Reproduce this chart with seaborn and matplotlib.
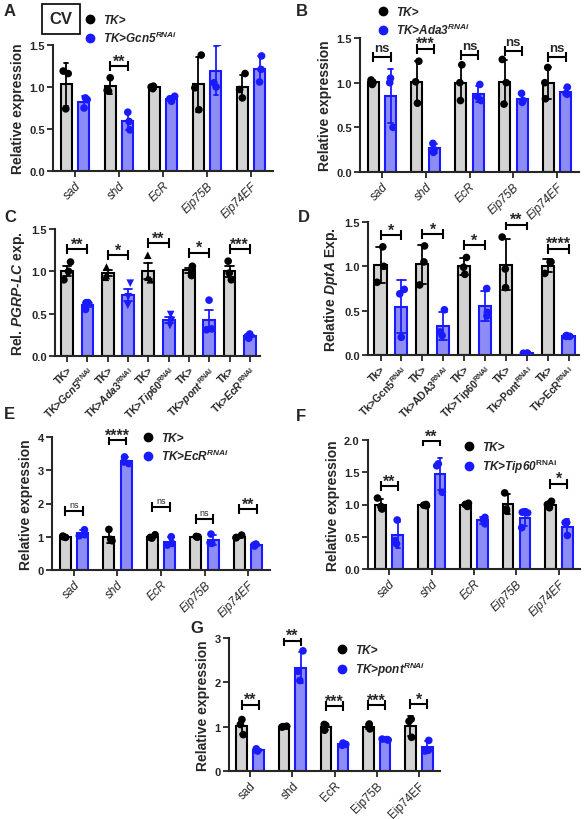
import numpy as np
import pandas as pd
import seaborn as sns
import matplotlib.pyplot as plt
import matplotlib.colors as mcolors
from matplotlib.lines import Line2D

sns.set_style("ticks")
plt.rcParams['font.family'] = ['Liberation Sans', 'DejaVu Sans']
plt.rcParams['mathtext.fontset'] = 'custom'
plt.rcParams['mathtext.rm'] = 'Liberation Sans:bold'
plt.rcParams['mathtext.it'] = 'Liberation Sans:italic:bold'
plt.rcParams['mathtext.bf'] = 'Liberation Sans:bold'
np.random.seed(7)

# ---------------- data ----------------
genes = ["sad", "shd", "EcR", "Eip75B", "Eip74EF"]

A_ctrl = [[1.19, 1.16, 0.74], [1.11, 0.96, 0.95], [1.01, 1.00, 0.98], [1.38, 0.99, 0.73], [1.16, 0.97, 0.87]]
A_trt = [[0.87, 0.85, 0.75], [0.70, 0.59, 0.49], [0.89, 0.86, 0.83], [1.53, 1.05, 1.00], [1.37, 1.21, 1.06]]
A_sig = ["", "**", "", "", ""]
A_sig_y = [0, 1.25, 0, 0, 0]

B_ctrl = [[1.03, 1.00, 0.98], [1.24, 1.01, 0.77], [1.20, 1.00, 0.80], [1.26, 1.00, 0.76], [1.17, 1.00, 0.82]]
B_trt = [[1.05, 1.00, 0.50], [0.32, 0.25, 0.22], [0.98, 0.84, 0.80], [0.88, 0.80, 0.78], [0.95, 0.88, 0.87]]
B_sig = ["ns", "***", "ns", "ns", "ns"]
B_sig_y = [1.29, 1.38, 1.31, 1.36, 1.29]

C_ctrl_lab = ["TK>", "TK>", "TK>", "TK>", "Tk>"]
C_trt_lab = [r"TK>$\mathit{Gcn5}^{\mathrm{RNAi}}$", r"TK>$\mathit{Ada3}^{\mathrm{RNAi}}$",
             r"TK>$\mathit{Tip60}^{\mathrm{RNAi}}$", r"TK>$\mathit{pont}^{\mathrm{RNAi}}$",
             r"Tk>$\mathit{EcR}^{\mathrm{RNAi}}$"]
C_ctrl = [[1.11, 1.00, 0.90], [1.05, 0.95, 0.93], [1.19, 0.93, 0.90], [1.06, 1.02, 0.95], [1.12, 0.98, 0.90]]
C_trt = [[0.63, 0.63, 0.55], [0.86, 0.70, 0.60], [0.49, 0.42, 0.36], [0.66, 0.32, 0.31], [0.26, 0.23, 0.21]]
C_ctrl_mk = ["o", "^", "^", "o", "o"]
C_trt_mk = ["o", "v", "v", "o", "o"]
C_sig = ["**", "*", "**", "*", "***"]
C_sig_y = [1.26, 1.19, 1.33, 1.22, 1.26]

D_ctrl_lab = ["Tk>", "TK>", "TK>", "TK>", "Tk>"]
D_trt_lab = [r"Tk>Gcn5$^{\mathrm{RNAi}}$", r"Tk>ADA3$^{\mathrm{RNAi}}$", r"TK>Tip60$^{\mathrm{RNAi}}$",
             r"Tk>Pont$^{\mathrm{RNAi}}$", r"Tk>EcR$^{\mathrm{RNAi}}$"]
D_ctrl = [[1.22, 1.00, 0.82], [1.23, 1.05, 0.79], [1.10, 0.99, 0.91], [1.33, 0.97, 0.76], [1.05, 1.05, 0.92]]
D_trt = [[0.74, 0.69, 0.20], [0.51, 0.26, 0.22], [0.75, 0.48, 0.44], [0.02, 0.02, 0.02], [0.22, 0.21, 0.21]]
D_sig = ["*", "*", "*", "**", "****"]
D_sig_y = [1.35, 1.36, 1.24, 1.47, 1.20]

E_ctrl = [[1.00, 0.98, 1.02], [1.22, 0.92, 0.88], [1.06, 0.98, 0.96], [0.99, 1.00, 1.01], [1.05, 0.98, 0.97]]
E_trt = [[1.21, 1.06, 1.03], [3.40, 3.25, 3.20], [1.00, 0.80, 0.75], [1.08, 0.82, 0.80], [0.78, 0.75, 0.72]]
E_sig = ["ns", "****", "ns", "ns", "**"]
E_sig_y = [1.78, 3.90, 1.88, 1.53, 1.83]

F_ctrl = [[1.10, 0.97, 0.93], [0.99, 1.00, 0.98], [1.02, 1.00, 0.97], [1.18, 0.93, 0.90], [1.05, 1.00, 0.95]]
F_trt = [[0.76, 0.44, 0.39], [1.63, 1.60, 1.19], [0.80, 0.76, 0.70], [0.88, 0.87, 0.64], [0.72, 0.72, 0.52]]
F_sig = ["**", "**", "", "", "*"]
F_sig_y = [1.28, 1.98, 0, 0, 1.32]

G_ctrl = [[1.16, 1.05, 0.82], [1.00, 0.99, 1.01], [1.05, 1.03, 0.92], [1.06, 1.00, 0.95], [1.17, 1.12, 0.76]]
G_trt = [[0.50, 0.47, 0.45], [2.71, 2.25, 2.04], [0.63, 0.60, 0.58], [0.72, 0.71, 0.70], [0.69, 0.47, 0.45]]
G_sig = ["**", "**", "***", "***", "*"]
G_sig_y = [1.49, 2.94, 1.46, 1.48, 1.51]

# ---------------- style ----------------
W, H = 584, 820
GRAY = "#d3d3d3"
LBLUE = "#8c8cf4"
BLUE = "#1a1aff"
fig = plt.figure(figsize=(W / 100, H / 100), dpi=100)


def make_axes(x0, x1, ytop, ybot):
    return fig.add_axes([x0 / W, 1 - ybot / H, (x1 - x0) / W, (ybot - ytop) / H])


def long_df(ctrl, trt, ckeys, tkeys):
    rows = []
    for ck, tk, c, t in zip(ckeys, tkeys, ctrl, trt):
        rows += [(ck, "ctrl", v) for v in c]
        rows += [(tk, "trt", v) for v in t]
    return pd.DataFrame(rows, columns=["key", "group", "value"])


def finish_axes(ax, ylim, yticks, fmt, ylabel):
    ax.set_ylim(*ylim)
    ax.set_yticks(yticks)
    ax.set_yticklabels([fmt.format(v) for v in yticks], fontweight="bold", fontsize=8)
    ax.set_ylabel(ylabel, fontweight="bold", fontsize=10, labelpad=3)
    ax.set_xlabel("")
    sns.despine(ax=ax)
    for s in ["left", "bottom"]:
        ax.spines[s].set_linewidth(1.5)
    ax.tick_params(width=1.3, length=4, pad=2)
    tcolor = mcolors.to_rgba(GRAY)
    for p in ax.patches:
        is_ctrl = np.allclose(p.get_facecolor(), tcolor)
        p.set_edgecolor("black" if is_ctrl else BLUE)
        p.set_linewidth(1.5)


def brackets(ax, x_pairs, sig, sig_y, small_ns=False):
    for (x1, x2), s, y in zip(x_pairs, sig, sig_y):
        if not s:
            continue
        ax.plot([x1, x2], [y, y], color="black", lw=1.5, marker="|", ms=7, mew=1.5, zorder=5)
        if s == "ns":
            if small_ns:
                ax.annotate(s, ((x1 + x2) / 2, y), xytext=(0, 3), textcoords="offset points",
                            ha="center", va="baseline", fontsize=6.5)
            else:
                ax.annotate(s, ((x1 + x2) / 2, y), xytext=(0, 4), textcoords="offset points",
                            ha="center", va="baseline", fontsize=9.5, fontweight="bold")
        else:
            ax.annotate(s, ((x1 + x2) / 2, y), xytext=(0, 0.5), textcoords="offset points",
                        ha="center", va="baseline", fontsize=11.5, fontweight="bold")


def grouped_panel(ax, ctrl, trt, sig, sig_y, ylim, yticks, fmt, err="sd", italic=True, small_ns=False):
    df = long_df(ctrl, trt, genes, genes)
    sns.barplot(data=df, x="key", y="value", hue="group", order=genes, hue_order=["ctrl", "trt"],
                palette={"ctrl": GRAY, "trt": LBLUE}, saturation=1, width=0.8, gap=0.375,
                errorbar=err, capsize=0.2, err_kws={"linewidth": 1.3}, legend=False, ax=ax)
    for ln in ax.lines:
        x = np.nanmean(ln.get_xdata())
        ln.set_color("black" if x < round(x) else BLUE)
    sns.stripplot(data=df, x="key", y="value", hue="group", order=genes, hue_order=["ctrl", "trt"],
                  palette={"ctrl": "black", "trt": BLUE}, dodge=True, jitter=0.16, size=5.5,
                  legend=False, ax=ax, zorder=4)
    finish_axes(ax, ylim, yticks, fmt, "Relative expression")
    ax.set_xlim(-0.5, 4.5)
    ax.set_xticks(range(len(genes)))
    ax.set_xticklabels(genes, rotation=45, ha="right", rotation_mode="anchor",
                       fontsize=8.5, style="italic" if italic else "normal")
    brackets(ax, [(i - 0.2, i + 0.2) for i in range(len(genes))], sig, sig_y, small_ns)


def paired_panel(ax, ctrl, trt, clab, tlab, cmk, tmk, sig, sig_y, err, ylabel):
    ckeys = ["c%d" % i for i in range(5)]
    tkeys = ["t%d" % i for i in range(5)]
    order = [k for pair in zip(ckeys, tkeys) for k in pair]
    df = long_df(ctrl, trt, ckeys, tkeys)
    sns.barplot(data=df, x="key", y="value", hue="group", order=order, hue_order=["ctrl", "trt"],
                palette={"ctrl": GRAY, "trt": LBLUE}, saturation=1, width=0.58, dodge=False,
                errorbar=err, capsize=0.4, err_kws={"linewidth": 1.3}, legend=False, ax=ax)
    for ln in ax.lines:
        x = np.nanmean(ln.get_xdata())
        ln.set_color("black" if round(x) % 2 == 0 else BLUE)
    mk = dict(zip(ckeys + tkeys, cmk + tmk))
    df["marker"] = df["key"].map(mk)
    for m in df["marker"].unique():
        sub = df[df["marker"] == m]
        sns.stripplot(data=sub, x="key", y="value", hue="group", order=order, hue_order=["ctrl", "trt"],
                      palette={"ctrl": "black", "trt": BLUE}, dodge=False, jitter=0.18, size=5.5,
                      marker=m, legend=False, ax=ax, zorder=4)
    finish_axes(ax, (0, 1.5), [0, 0.5, 1.0, 1.5], "{:.1f}", ylabel)
    ax.set_xlim(-0.6, 9.5)
    ax.set_xticks(range(10))
    labs = [l for pair in zip(clab, tlab) for l in pair]
    ax.set_xticklabels(labs, rotation=45, ha="right", rotation_mode="anchor",
                       fontsize=7.5, fontweight="bold")
    brackets(ax, [(2 * i, 2 * i + 1) for i in range(5)], sig, sig_y)


def add_legend(ax, label2, x, y):
    h = [Line2D([], [], ls="", marker="o", color="black", ms=6),
         Line2D([], [], ls="", marker="o", color=BLUE, ms=6)]
    ax.legend(h, ["TK>", label2], loc="upper left", bbox_to_anchor=(x / W, 1 - y / H),
              bbox_transform=fig.transFigure, frameon=False, handlelength=1.0, handletextpad=0.6,
              borderpad=0, borderaxespad=0, labelspacing=0.35,
              prop={"style": "italic", "weight": "bold", "size": 8.5})


# ---------------- panels ----------------
axA = make_axes(53, 273, 46, 172)
grouped_panel(axA, A_ctrl, A_trt, A_sig, A_sig_y, (0, 1.5), [0, 0.5, 1.0, 1.5], "{:.1f}")
add_legend(axA, r"TK>Gcn5$^{RNAi}$", 84, 15)

axB = make_axes(360, 579, 39, 173)
grouped_panel(axB, B_ctrl, B_trt, B_sig, B_sig_y, (0, 1.5), [0, 0.5, 1.0, 1.5], "{:.1f}")
add_legend(axB, r"TK>Ada3$^{RNAi}$", 377, 7)

axC = make_axes(55, 260, 230, 357)
paired_panel(axC, C_ctrl, C_trt, C_ctrl_lab, C_trt_lab, C_ctrl_mk, C_trt_mk, C_sig, C_sig_y, "se",
             r"Rel. $\mathit{PGRP}$-$\mathit{LC}$ exp.")

axD = make_axes(368, 579, 223, 356)
paired_panel(axD, D_ctrl, D_trt, D_ctrl_lab, D_trt_lab, ["o"] * 5, ["o"] * 5, D_sig, D_sig_y, "sd",
             r"Relative $\mathit{DptA}$ Exp.")

axE = make_axes(52, 270, 438, 571)
grouped_panel(axE, E_ctrl, E_trt, E_sig, E_sig_y, (0, 4), [0, 1, 2, 3, 4], "{:d}", small_ns=True)
add_legend(axE, r"TK>EcR$^{RNAi}$", 142, 433)

axF = make_axes(368, 580, 441, 570)
grouped_panel(axF, F_ctrl, F_trt, F_sig, F_sig_y, (0, 2.0), [0, 0.5, 1.0, 1.5, 2.0], "{:.1f}")
add_legend(axF, r"TK>Tip60$^{\mathrm{RNAi}}$", 463, 442)

axG = make_axes(229, 440, 639, 772)
grouped_panel(axG, G_ctrl, G_trt, G_sig, G_sig_y, (0, 3), [0, 1, 2, 3], "{:d}", italic=False)
add_legend(axG, r"TK>pont$^{RNAi}$", 336, 645)

# panel letters
for letter, x, y in [("A", 4, 12), ("B", 296, 12), ("C", 4, 217), ("D", 298, 218),
                     ("E", 4, 415), ("F", 296, 417), ("G", 190, 629)]:
    fig.text(x / W, 1 - y / H, letter, fontsize=12, fontweight="bold", va="center", ha="left")

fig.text(61 / W, 1 - 20 / H, "CV", fontsize=12, fontweight="bold", ha="center", va="center",
         bbox=dict(boxstyle="square,pad=0.45", fc="white", ec="black", lw=1.2))

fig.savefig("out.png", dpi=100)
